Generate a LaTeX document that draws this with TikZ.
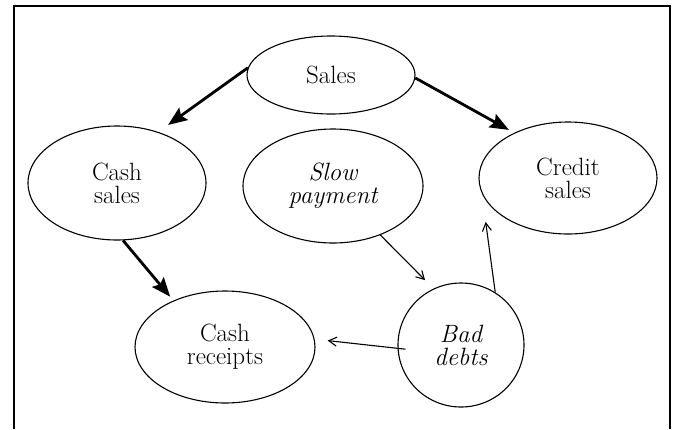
\documentclass[tikz,border=0pt]{standalone}
\usetikzlibrary{shapes.geometric,arrows.meta}

\tikzset{
  bubble/.style={ellipse, draw, line width=1.1pt, inner sep=0pt, align=center,
    font=\fontsize{25}{23}\selectfont},
  heavy/.style={line width=2.8pt, -{Stealth[length=19pt,width=15pt,inset=3pt]}},
  light/.style={line width=1.1pt, -{Straight Barb[length=8pt,width=9pt,line width=1.1pt]}},
  frameline/.style={line width=1.8pt}
}

\begin{document}
\begin{tikzpicture}[x=1pt,y=-1pt]
  \useasboundingbox (0,0) rectangle (677,429);

  % open frame round the chart
  \draw[frameline] (14,429) -- (14,6) -- (670,6) -- (670,429);

  % nodes
  \node[bubble, minimum width=168pt, minimum height=78pt]  (sales)    at (331,75)  {Sales};
  \node[bubble, minimum width=178pt, minimum height=114pt] (cashsales) at (117,183) {Cash\\sales};
  \node[bubble, minimum width=180pt, minimum height=114pt] (slow)     at (333,186) {\itshape Slow\\\itshape payment};
  \node[bubble, minimum width=178pt, minimum height=112pt] (credit)   at (568,178) {Credit\\sales};
  \node[bubble, minimum width=180pt, minimum height=112pt] (receipts) at (225,347) {Cash\\receipts};
  \node[bubble, minimum width=126pt, minimum height=124pt] (bad)      at (461,345) {\itshape Bad\\\itshape debts};

  % flows of sales
  \draw[heavy, shorten >=12pt] (sales.175) -- (cashsales.51);
  \draw[heavy, shorten >=6pt]  (sales.-2) -- (credit.140);
  \draw[heavy, shorten >=5pt]  (cashsales.-84) -- (receipts.138);

  % effects of slow payment
  \draw[light, shorten >=12pt] (slow.-46) -- (bad.116);
  \draw[light, shorten <=-8pt, shorten >=13pt] (bad.183) -- (receipts.5);
  \draw[light, shorten >=29pt] (bad.57) -- (credit.190);
\end{tikzpicture}
\end{document}
